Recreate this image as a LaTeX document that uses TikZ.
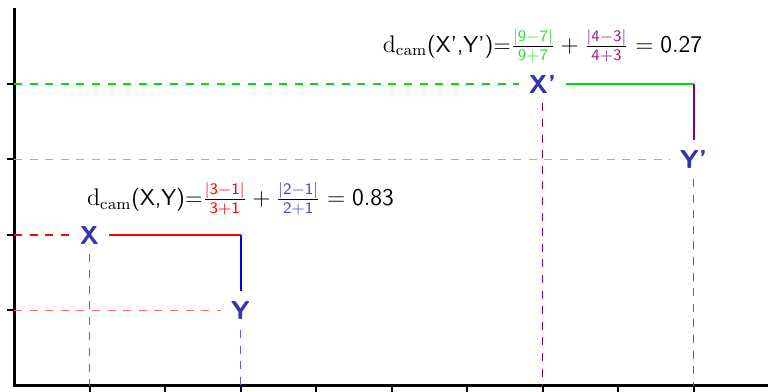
\documentclass[tikz,border=0pt]{standalone}
\usepackage{xcolor}
\definecolor{lblue}{RGB}{52,52,178}
\definecolor{mygreen}{RGB}{0,225,0}
\definecolor{lgreen}{RGB}{90,235,90}
\definecolor{fgreen}{RGB}{60,220,60}
\definecolor{mypurple}{RGB}{128,0,128}
\definecolor{lpurple}{RGB}{170,60,170}
\definecolor{fpurple}{RGB}{150,30,150}
\definecolor{fblue}{RGB}{70,70,210}
\definecolor{lblueguide}{RGB}{90,90,255}
\begin{document}
\begin{tikzpicture}[x=37.75pt,y=37.75pt,
  pt/.style={font=\sffamily\bfseries\fontsize{13}{15}\selectfont,text=lblue,inner sep=5pt},
  axisline/.style={line width=1.5pt,black},
  tickline/.style={line width=1pt,black},
  guide/.style={line width=0.9pt,dash pattern=on 4pt off 3.8pt},
  seg/.style={line width=1pt},
  formula/.style={font=\fontsize{11.5}{13}\selectfont,anchor=base,inner sep=0pt}]
\useasboundingbox (-7pt,-3pt) rectangle (377pt,193pt);
% axes
\coordinate (O) at (0,0);
\coordinate (ytop) at (0,189pt);
\coordinate (xend) at (377pt,0);
\foreach \i in {1,...,9} \draw[tickline] (\i,0) -- (\i,-3pt);
\foreach \j in {1,...,4} \draw[tickline] (0,\j) -- (-3.5pt,\j);
\draw[axisline] (ytop) -- (O) -- (xend);
% points
\node[pt] (X) at (1,2) {X};
\node[pt] (Y) at (3,1) {Y};
\node[pt] (Xp) at (7,4) {X'};
\node[pt] (Yp) at (9,3) {Y'};
\coordinate (c1) at (3,2);
\coordinate (c2) at (9,4);
% guides
\draw[guide,red] (0,2) -- (X.west);
\draw[guide,red!60] (0,1) -- (Y.west);
\draw[guide,lblueguide] (X.south) -- (1,0);
\draw[guide,lblueguide] (Y.south) -- (3,0);
\draw[guide,mygreen] (0,4) -- (Xp.west);
\draw[guide,lgreen] (0,3) -- (Yp.west);
\draw[guide,mypurple] (Xp.south) -- (7,0);
\draw[guide,lpurple] (Yp.south) -- (9,0);
% segments
\draw[seg,red] (X.east) -- (c1);
\draw[seg,blue] (c1) -- (Y.north);
\draw[seg,mygreen] (Xp.east) -- (c2);
\draw[seg,mypurple] (c2) -- (Yp.north);
% formulas
\node[formula] (f1) at (3.0,2.39) {$\mathrm{d}_{\mathrm{cam}}$\textsf{(X,Y)=}$\frac{\color{red}\mathsf{|3-1|}}{\color{red}\mathsf{3+1}}+\frac{\color{fblue}\mathsf{|2-1|}}{\color{fblue}\mathsf{2+1}}=\mathsf{0.83}$};
\node[formula] (f2) at (7.0,4.42) {$\mathrm{d}_{\mathrm{cam}}$\textsf{(X',Y')=}$\frac{\color{fgreen}\mathsf{|9-7|}}{\color{fgreen}\mathsf{9+7}}+\frac{\color{fpurple}\mathsf{|4-3|}}{\color{fpurple}\mathsf{4+3}}=\mathsf{0.27}$};
\end{tikzpicture}
\end{document}
